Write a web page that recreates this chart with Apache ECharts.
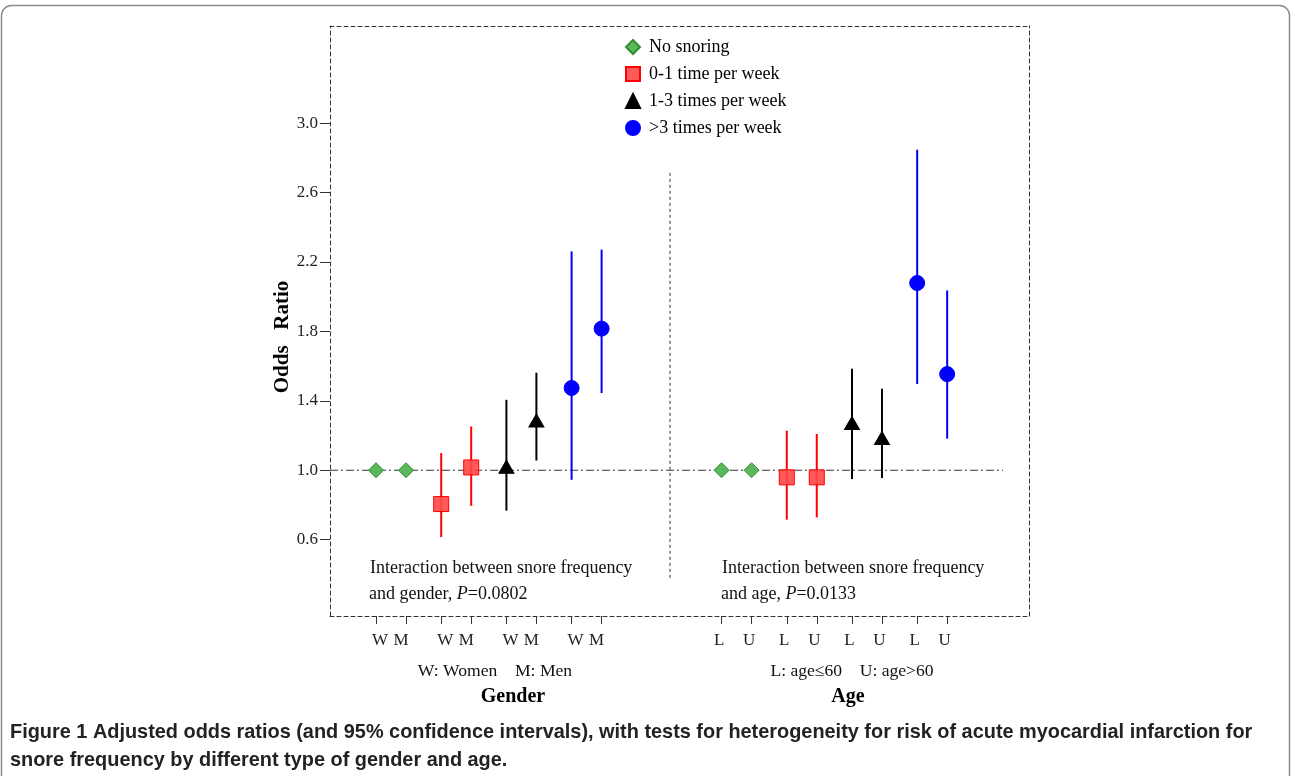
<!DOCTYPE html>
<html lang="en">
<head>
<meta charset="UTF-8">
<script src="https://cdn.jsdelivr.net/npm/echarts@6/dist/echarts.min.js"></script>
<title>Odds ratio by snore frequency</title>
<style>
    html, body { margin: 0; padding: 0; background: #fff; }
    #main { width: 1292px; height: 776px; }
</style>
</head>
<body>
<div id="main"></div>
<script type="text/javascript">
    // snore frequency levels (legend)
    var levels = ['No snoring', '0-1 time per week', '1-3 times per week', '>3 times per week'];
    var genderLabels = ['W', 'M'];
    var ageLabels = ['L', 'U'];

    // odds ratio and 95% CI per level: [W, M]
    var genderOR   = [[1.00, 1.00], [0.805, 1.016], [1.02, 1.287], [1.474, 1.816]];
    var genderLow  = [[null, null], [0.615, 0.795], [0.767, 1.056], [0.945, 1.445]];
    var genderHigh = [[null, null], [1.099, 1.252], [1.406, 1.562], [2.261, 2.271]];

    // per level: [L, U]
    var ageOR   = [[1.00, 1.00], [0.959, 0.959], [1.272, 1.186], [2.079, 1.554]];
    var ageLow  = [[null, null], [0.715, 0.728], [0.949, 0.955], [1.497, 1.182]];
    var ageHigh = [[null, null], [1.228, 1.209], [1.585, 1.470], [2.847, 2.036]];

    var yTicks = [0.6, 1.0, 1.4, 1.8, 2.2, 2.6, 3.0];

    // layout on the x axis: one unit per level, subgroups side by side
    var pairGap = 0.46, ageOffset = 5.3;
    var xMin = -0.7055, xMax = 10.015;
    function xPos(panel, level, sub) {
        return panel * ageOffset + level + sub * pairGap;
    }

    var serif = 'Liberation Serif';
    var colors = ['#5cb85c', 'rgba(255,72,72,0.9)', '#000000', '#0000ff'];
    var borders = ['#2f8f2f', '#ff0000', '#000000', '#0000ff'];
    var barColors = ['#2f8f2f', '#ff0000', '#000000', '#0000ff'];
    var symbols = ['diamond', 'rect', 'triangle', 'circle'];
    var sizes = [[15, 15], [15, 15], [15, 13], [15, 15]];

    // W/M labels sit a bit closer together than their ticks
    var labelStyle = {W: 'w', M: 'm', L: 'a', U: 'a'};

    var xTickVals = [];
    var xTickText = {};
    for (var i = 0; i < levels.length; i++) {
        for (var s = 0; s < 2; s++) {
            var a = xPos(0, i, s), b = xPos(1, i, s);
            xTickVals.push(a, b);
            xTickText[a.toFixed(3)] = genderLabels[s];
            xTickText[b.toFixed(3)] = ageLabels[s];
        }
    }

    function renderBar(params, api) {
        var top = api.coord([api.value(0), api.value(2)]);
        var bot = api.coord([api.value(0), api.value(1)]);
        return {
            type: 'line',
            shape: {x1: top[0], y1: top[1], x2: bot[0], y2: bot[1]},
            style: {stroke: api.visual('color'), lineWidth: 2}
        };
    }

    var series = [];
    // reference line at OR = 1
    series.push({
        type: 'line', silent: true, symbol: 'none', z: 1,
        data: [[xMin, 1], [9.617, 1]],
        lineStyle: {color: '#333', width: 1, type: [8, 3, 2, 3]}
    });
    // divider between the two panels
    series.push({
        type: 'line', silent: true, symbol: 'none', z: 1,
        data: [[4.509, 0.38], [4.509, 2.72]],
        lineStyle: {color: '#333', width: 1, type: [3, 3]}
    });

    for (var i = 0; i < levels.length; i++) {
        var pts = [], bars = [];
        for (var s = 0; s < 2; s++) {
            pts.push([xPos(0, i, s), genderOR[i][s]]);
            pts.push([xPos(1, i, s), ageOR[i][s]]);
            if (genderLow[i][s] != null) bars.push([xPos(0, i, s), genderLow[i][s], genderHigh[i][s]]);
            if (ageLow[i][s] != null) bars.push([xPos(1, i, s), ageLow[i][s], ageHigh[i][s]]);
        }
        if (bars.length) {
            series.push({
                type: 'custom', silent: true, z: 2,
                itemStyle: {color: barColors[i]},
                renderItem: renderBar,
                data: bars
            });
        }
        series.push({
            name: levels[i], type: 'scatter', z: 3,
            symbol: symbols[i], symbolSize: sizes[i],
            itemStyle: {color: colors[i], borderColor: borders[i], borderWidth: 1, opacity: 1},
            data: pts
        });
    }

    var myChart = echarts.init(document.getElementById('main'));

    var dashed = {color: '#333', width: 1, type: [4, 3]};
    var tickFont = {fontFamily: serif, fontSize: 17, color: '#222'};

    var option = {
        animation: false,
        backgroundColor: '#fff',
        grid: {left: 330, top: 26, right: 263, bottom: 160},
        legend: {
            data: levels,
            orient: 'vertical',
            left: 625, top: 38,
            padding: 0,
            itemWidth: 14, itemHeight: 14, itemGap: 9,
            textStyle: {fontFamily: serif, fontSize: 18, color: '#000', padding: [0, 0, 0, 4]}
        },
        xAxis: [{
            type: 'value', min: xMin, max: xMax,
            splitLine: {show: false},
            axisLine: {onZero: false, lineStyle: dashed},
            axisTick: {customValues: xTickVals, length: 8, inside: false, lineStyle: {color: '#333'}},
            axisLabel: {
                customValues: xTickVals, margin: 16,
                fontFamily: serif, fontSize: 17, color: '#222',
                formatter: function (v) {
                    var t = xTickText[v.toFixed(3)] || '';
                    return t ? '{' + labelStyle[t] + '|' + t + '}' : '';
                },
                rich: {
                    w: Object.assign({padding: [0, 0, 0, 8]}, tickFont),
                    m: Object.assign({padding: [0, 10, 0, 0]}, tickFont),
                    a: Object.assign({padding: [0, 5, 0, 0]}, tickFont)
                }
            }
        }, {
            type: 'value', position: 'top', min: xMin, max: xMax,
            splitLine: {show: false}, axisTick: {show: false}, axisLabel: {show: false},
            axisLine: {show: true, onZero: false, lineStyle: dashed}
        }],
        yAxis: [{
            type: 'value', min: 0.16, max: 3.56,
            name: 'Odds   Ratio', nameLocation: 'middle', nameGap: 37, nameMoveOverlap: false,
            nameTextStyle: {fontFamily: serif, fontWeight: 'bold', fontSize: 21, color: '#000', padding: [0, 32, 0, 0]},
            splitLine: {show: false},
            axisLine: {show: true, onZero: false, lineStyle: dashed},
            axisTick: {customValues: yTicks, length: 10, lineStyle: {color: '#333'}},
            axisLabel: {
                customValues: yTicks, margin: 12,
                fontFamily: serif, fontSize: 17, color: '#222',
                formatter: function (v) { return v.toFixed(1); }
            }
        }, {
            type: 'value', position: 'right', min: 0.16, max: 3.56,
            splitLine: {show: false}, axisTick: {show: false}, axisLabel: {show: false},
            axisLine: {show: true, onZero: false, lineStyle: dashed}
        }],
        graphic: [
            {type: 'rect', z: -1, shape: {x: 1.5, y: 5.5, width: 1288, height: 820, r: 10},
                style: {fill: 'none', stroke: '#8c8c8c', lineWidth: 1.5}},
            {type: 'text', left: 370, top: 559,
                style: {text: 'Interaction between snore frequency', font: '18px ' + serif, fill: '#111'}},
            {type: 'text', left: 369, top: 585,
                style: {text: 'and gender, {i|P}=0.0802', font: '18px ' + serif, fill: '#111',
                    rich: {i: {fontStyle: 'italic', fontFamily: serif, fontSize: 18}}}},
            {type: 'text', left: 722, top: 559,
                style: {text: 'Interaction between snore frequency', font: '18px ' + serif, fill: '#111'}},
            {type: 'text', left: 721, top: 585,
                style: {text: 'and age, {i|P}=0.0133', font: '18px ' + serif, fill: '#111',
                    rich: {i: {fontStyle: 'italic', fontFamily: serif, fontSize: 18}}}},
            {type: 'text', x: 495, y: 671,
                style: {text: 'W: Women    M: Men', font: '17.6px ' + serif, fill: '#111', align: 'center', verticalAlign: 'middle'}},
            {type: 'text', x: 852, y: 671,
                style: {text: 'L: age\u226460    U: age>60', font: '17.6px ' + serif, fill: '#111', align: 'center', verticalAlign: 'middle'}},
            {type: 'text', x: 513, y: 697,
                style: {text: 'Gender', font: 'bold 20px ' + serif, fill: '#000', align: 'center', verticalAlign: 'middle'}},
            {type: 'text', x: 848, y: 697,
                style: {text: 'Age', font: 'bold 20px ' + serif, fill: '#000', align: 'center', verticalAlign: 'middle'}},
            {type: 'text', x: 10, y: 733,
                style: {text: 'Figure 1 Adjusted odds ratios (and 95% confidence intervals), with tests for heterogeneity for risk of acute myocardial infarction for',
                    font: 'bold 19.9px "Liberation Sans", sans-serif', fill: '#222', verticalAlign: 'middle'}},
            {type: 'text', x: 10, y: 761,
                style: {text: 'snore frequency by different type of gender and age.',
                    font: 'bold 19.9px "Liberation Sans", sans-serif', fill: '#222', verticalAlign: 'middle'}}
        ],
        series: series
    };

    myChart.setOption(option);
</script>
</body>
</html>
